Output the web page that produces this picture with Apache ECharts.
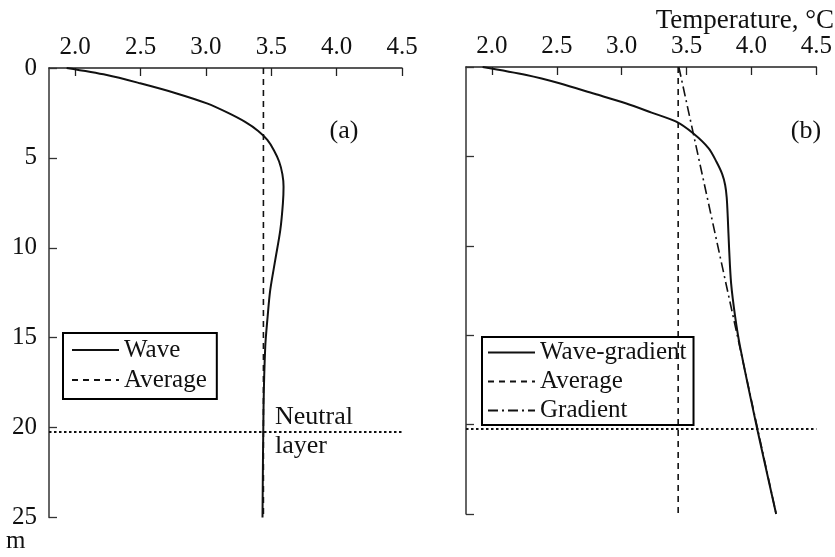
<!DOCTYPE html>
<html>
<head>
<meta charset="utf-8">
<script src="https://cdn.jsdelivr.net/npm/echarts@6/dist/echarts.min.js"></script>
<style>html,body{margin:0;padding:0;background:#fff}#c{width:835px;height:557px}</style>
</head>
<body>
<div id="c"></div>
<script>
// ---- data ----
const tempTicks = [2.0, 2.5, 3.0, 3.5, 4.0, 4.5];
const depthTicks = [0, 5, 10, 15, 20, 25];

// Panel (a)
const waveDepthA = [0, 0.39, 0.85, 1.4, 1.97, 2.5, 3.0, 3.5, 4.0, 4.57, 5.2, 5.9, 6.6, 7.53, 9.02, 10.7, 12.36, 13.85, 15.5, 18.86, 25];
const waveTempA  = [1.935, 2.242, 2.497, 2.77, 3.008, 3.17, 3.30, 3.40, 3.47, 3.52, 3.56, 3.585, 3.594, 3.589, 3.569, 3.53, 3.492, 3.472, 3.454, 3.441, 3.433];
const avgDepthA = [0, 25];
const avgTempA  = [3.44, 3.44];

// Panel (b)
const waveGradDepthB = [0, 0.45, 0.91, 1.5, 2.03, 2.55, 3.06, 3.71, 4.55, 5.3, 6.0, 6.6, 7.3, 8.37, 10.23, 12.1, 13.96, 15.64, 20.27, 25];
const waveGradTempB  = [1.928, 2.265, 2.52, 2.79, 3.03, 3.23, 3.42, 3.55, 3.67, 3.73, 3.775, 3.797, 3.809, 3.817, 3.828, 3.843, 3.874, 3.912, 4.045, 4.19];
const avgDepthB = [0, 25];
const avgTempB  = [3.435, 3.435];
const gradDepthB = [0, 25];
const gradTempB  = [3.44, 4.19];

const neutralDepth = 20.25;

// ---- chart ----
const FONT = 'Liberation Serif';
const INK = '#111';
const pairs = (t, d) => t.map((v, i) => [v, d[i]]);

const chart = echarts.init(document.getElementById('c'), null, {renderer: 'canvas'});

const xAxisDef = (i) => ({
  type: 'value', gridIndex: i, position: 'top', min: 1.8, max: 4.5,
  axisLine: {show: true, lineStyle: {color: '#222', width: 1.5}},
  axisTick: {show: true, inside: true, length: 8, customValues: tempTicks, lineStyle: {color: '#222', width: 1.3}},
  axisLabel: {show: true, customValues: tempTicks, formatter: v => v.toFixed(1),
              fontFamily: FONT, fontSize: 25, color: INK, margin: 8},
  splitLine: {show: false}
});
const yAxisDef = (i) => ({
  type: 'value', gridIndex: i, inverse: true, min: 0, max: 25, interval: 5,
  axisLine: {show: true, lineStyle: {color: '#333', width: 1.5}},
  axisTick: {show: true, inside: true, length: 8, lineStyle: {color: '#333', width: 1.3}},
  axisLabel: {show: i === 0, fontFamily: FONT, fontSize: 25, color: INK, margin: 12},
  splitLine: {show: false}
});

const neutralMark = {
  symbol: 'none', silent: true, label: {show: false},
  lineStyle: {type: [2.5, 2.5], color: INK, width: 1.8},
  data: [{yAxis: neutralDepth}]
};

const solid = {color: INK, width: 2, type: 'solid'};
const dashed = {color: INK, width: 1.6, type: [6, 5]};
const dashDot = {color: INK, width: 1.6, type: [10, 4, 2, 4]};

const hiddenSymbol = {color: 'rgba(0,0,0,0)', borderWidth: 0, opacity: 0};

const option = {
  animation: false,
  backgroundColor: '#fff',
  grid: [
    {left: 49, top: 68, width: 353, height: 449.5},
    {left: 466, top: 67, width: 352, height: 447}
  ],
  xAxis: [xAxisDef(0), xAxisDef(1)],
  yAxis: [yAxisDef(0), yAxisDef(1)],
  legend: [
    {
      data: ['Wave', 'Average'], orient: 'vertical', left: 63, top: 333,
      borderColor: '#000', borderWidth: 2, padding: [4, 10, 6, 8], itemGap: 4,
      itemWidth: 47, itemHeight: 14, selectedMode: false, itemStyle: hiddenSymbol,
      textStyle: {fontFamily: FONT, fontSize: 25, color: INK, lineHeight: 26}
    },
    {
      data: ['Wave-gradient', 'Average', 'Gradient'], orient: 'vertical', left: 482, top: 337,
      borderColor: '#000', borderWidth: 2, padding: [3, 7, 2, 5], itemGap: 4,
      itemWidth: 47, itemHeight: 14, selectedMode: false, itemStyle: hiddenSymbol,
      textStyle: {fontFamily: FONT, fontSize: 25, color: INK, lineHeight: 23}
    }
  ],
  series: [
    {name: 'Wave', type: 'line', xAxisIndex: 0, yAxisIndex: 0, symbol: 'none', smooth: 0.3,
     data: pairs(waveTempA, waveDepthA), lineStyle: solid, itemStyle: {color: INK}, markLine: neutralMark},
    {name: 'Average', type: 'line', xAxisIndex: 0, yAxisIndex: 0, symbol: 'none',
     data: pairs(avgTempA, avgDepthA), lineStyle: dashed, itemStyle: {color: INK}},
    {name: 'Wave-gradient', type: 'line', xAxisIndex: 1, yAxisIndex: 1, symbol: 'none', smooth: 0.3,
     data: pairs(waveGradTempB, waveGradDepthB), lineStyle: solid, itemStyle: {color: INK}, markLine: neutralMark},
    {name: 'Average', type: 'line', xAxisIndex: 1, yAxisIndex: 1, symbol: 'none',
     data: pairs(avgTempB, avgDepthB), lineStyle: dashed, itemStyle: {color: INK}},
    {name: 'Gradient', type: 'line', xAxisIndex: 1, yAxisIndex: 1, symbol: 'none',
     data: pairs(gradTempB, gradDepthB), lineStyle: dashDot, itemStyle: {color: INK}}
  ],
  graphic: [
    {type: 'text', x: 834, y: 21, style: {text: 'Temperature, °C', font: '27px "Liberation Serif"', fill: INK, textAlign: 'right', textVerticalAlign: 'middle'}},
    {type: 'text', x: 344, y: 131, style: {text: '(a)', font: '26px "Liberation Serif"', fill: INK, textAlign: 'center', textVerticalAlign: 'middle'}},
    {type: 'text', x: 806, y: 131, style: {text: '(b)', font: '26px "Liberation Serif"', fill: INK, textAlign: 'center', textVerticalAlign: 'middle'}},
    {type: 'text', x: 275, y: 417, style: {text: 'Neutral', font: '26px "Liberation Serif"', fill: INK, textAlign: 'left', textVerticalAlign: 'middle'}},
    {type: 'text', x: 275, y: 446, style: {text: 'layer', font: '26px "Liberation Serif"', fill: INK, textAlign: 'left', textVerticalAlign: 'middle'}},
    {type: 'text', x: 6, y: 541, style: {text: 'm', font: '25px "Liberation Serif"', fill: INK, textAlign: 'left', textVerticalAlign: 'middle'}}
  ]
};
chart.setOption(option);
</script>
</body>
</html>
